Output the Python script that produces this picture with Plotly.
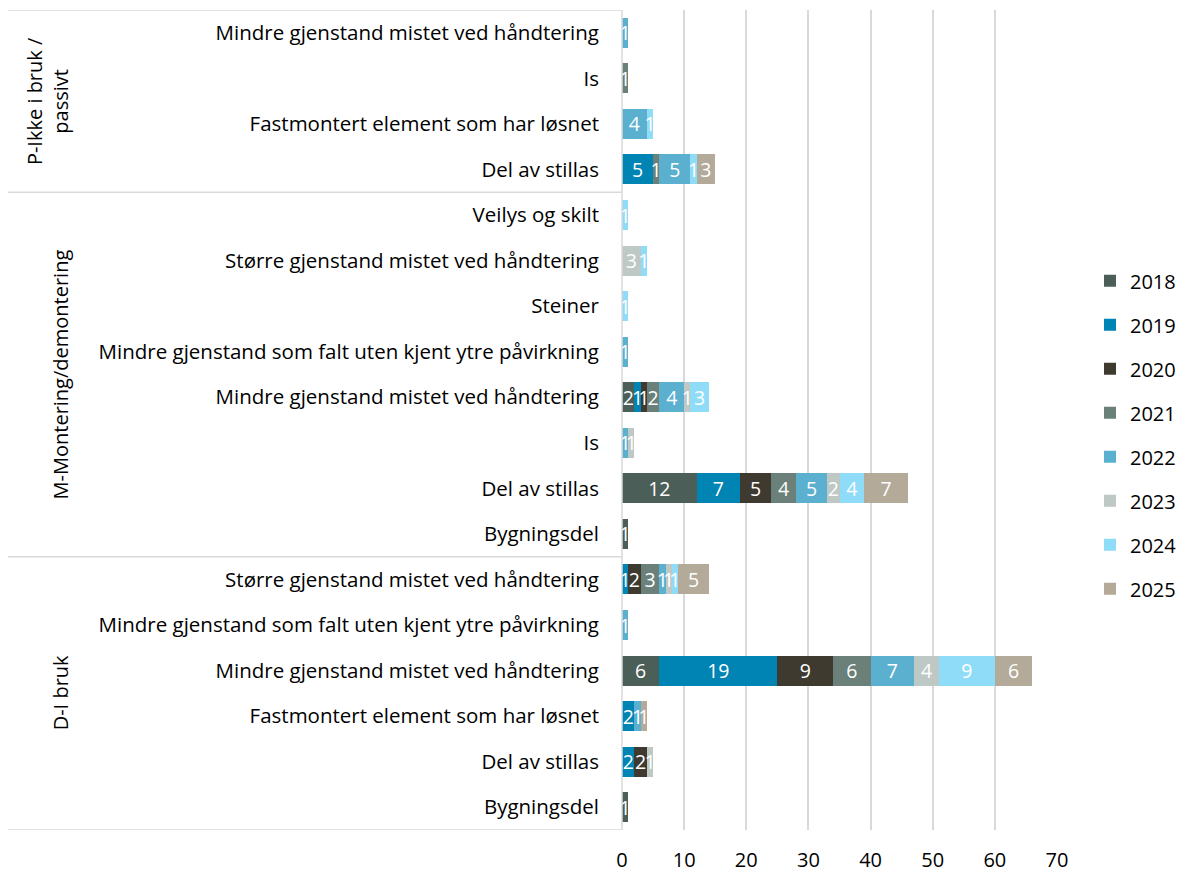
import plotly.graph_objects as go

years = ["2018", "2019", "2020", "2021", "2022", "2023", "2024", "2025"]
colors = ["#4B5E57", "#0084B4", "#3E3A30", "#6B8079", "#5BB0D0", "#BEC8C4", "#8EDCF8", "#B3AA99"]

# rows listed bottom to top
groups = ["D-I bruk"] * 6 + ["M-Montering/demontering"] * 8 + ["P-Ikke i bruk /<br>passivt"] * 4
categories = [
    "Bygningsdel",
    "Del av stillas",
    "Fastmontert element som har løsnet",
    "Mindre gjenstand mistet ved håndtering",
    "Mindre gjenstand som falt uten kjent ytre påvirkning",
    "Større gjenstand mistet ved håndtering",
    "Bygningsdel",
    "Del av stillas",
    "Is",
    "Mindre gjenstand mistet ved håndtering",
    "Mindre gjenstand som falt uten kjent ytre påvirkning",
    "Steiner",
    "Større gjenstand mistet ved håndtering",
    "Veilys og skilt",
    "Del av stillas",
    "Fastmontert element som har løsnet",
    "Is",
    "Mindre gjenstand mistet ved håndtering",
]
N = None
v2018 = [1, N, N, 6, N, N, 1, 12, N, 2, N, N, N, N, N, N, N, N]
v2019 = [N, 2, 2, 19, N, 1, N, 7, N, 1, N, N, N, N, 5, N, N, N]
v2020 = [N, 2, N, 9, N, 2, N, 5, N, 1, N, N, N, N, N, N, N, N]
v2021 = [N, N, N, 6, N, 3, N, 4, N, 2, N, N, N, N, 1, N, 1, N]
v2022 = [N, N, 1, 7, 1, 1, N, 5, 1, 4, 1, N, N, N, 5, 4, N, 1]
v2023 = [N, 1, N, 4, N, 1, N, 2, 1, 1, N, N, 3, N, N, N, N, N]
v2024 = [N, N, N, 9, N, 1, N, 4, N, 3, N, 1, 1, 1, 1, 1, N, N]
v2025 = [N, N, 1, 6, N, 5, N, 7, N, N, N, N, N, N, 3, N, N, N]
series = [v2018, v2019, v2020, v2021, v2022, v2023, v2024, v2025]

FONT = "Open Sans"
ypos = list(range(len(categories)))

fig = go.Figure()
for yr, col, vals in zip(years, colors, series):
    fig.add_trace(go.Bar(
        y=ypos, x=vals, name=yr, orientation="h",
        marker=dict(color=col, line=dict(width=0)),
        text=[str(v) if v else "" for v in vals],
        textposition="inside", insidetextanchor="middle", textangle=0,
        constraintext="none",
        textfont=dict(color="white", size=19.5, family=FONT),
        legendgroup=yr,
    ))

# page body has an 8px margin, so the figure is drawn 8px in from the window edge
OFF = 8
W, H = 1185 - OFF, 874 - OFF
L, R = 622 - OFF, 1057 - OFF
T, B = 10 - OFF, 830 - OFF

def px2paper(px):
    return (px - OFF - L) / (R - L)

shapes = []
bounds = [-0.5]
for i in range(1, len(groups)):
    if groups[i] != groups[i - 1]:
        bounds.append(i - 0.5)
bounds.append(len(groups) - 0.5)
for b in bounds:
    shapes.append(dict(type="line", xref="paper", yref="y", x0=px2paper(8), x1=px2paper(621),
                       y0=b, y1=b, line=dict(color="#D9D9D9", width=1.5)))
shapes.append(dict(type="line", xref="paper", yref="y", x0=0, x1=0, y0=-0.5, y1=len(groups) - 0.5,
                   line=dict(color="#D9D9D9", width=1.5)))

annotations = []
for j in range(len(bounds) - 1):
    mid = (bounds[j] + bounds[j + 1]) / 2
    g = groups[int(bounds[j] + 0.5)]
    xp = 47 if "<br>" in g else 60
    annotations.append(dict(x=px2paper(xp), xref="paper", y=mid, yref="y", text=g, textangle=-90,
                            showarrow=False, font=dict(size=20, family=FONT, color="black"),
                            xanchor="center", yanchor="middle"))

fig.update_layout(
    barmode="stack", bargap=0.34,
    width=W, height=H,
    margin=dict(l=L, r=W - R, t=T, b=H - B, autoexpand=False),
    plot_bgcolor="white", paper_bgcolor="white",
    font=dict(family=FONT, size=20, color="black"),
    uniformtext=dict(minsize=19.5, mode="show"),
    shapes=shapes, annotations=annotations,
    legend=dict(x=px2paper(1090), xanchor="left", y=0.482, yanchor="middle", traceorder="grouped",
                tracegroupgap=15, font=dict(size=20, family=FONT), itemwidth=30),
    xaxis=dict(range=[0, 70], dtick=10, showgrid=True, gridcolor="#D9D9D9", gridwidth=1.5,
               zeroline=False, showline=False, ticks="", ticklabelstandoff=16, automargin=False,
               tickfont=dict(size=20, family=FONT)),
    yaxis=dict(tickmode="array", tickvals=ypos, ticktext=categories, range=[-0.5, len(groups) - 0.5],
               showgrid=False, zeroline=False, showline=False, ticks="", ticklabelstandoff=22,
               automargin=False, tickfont=dict(size=20.5, family=FONT)),
)
fig.write_html("out.html")
